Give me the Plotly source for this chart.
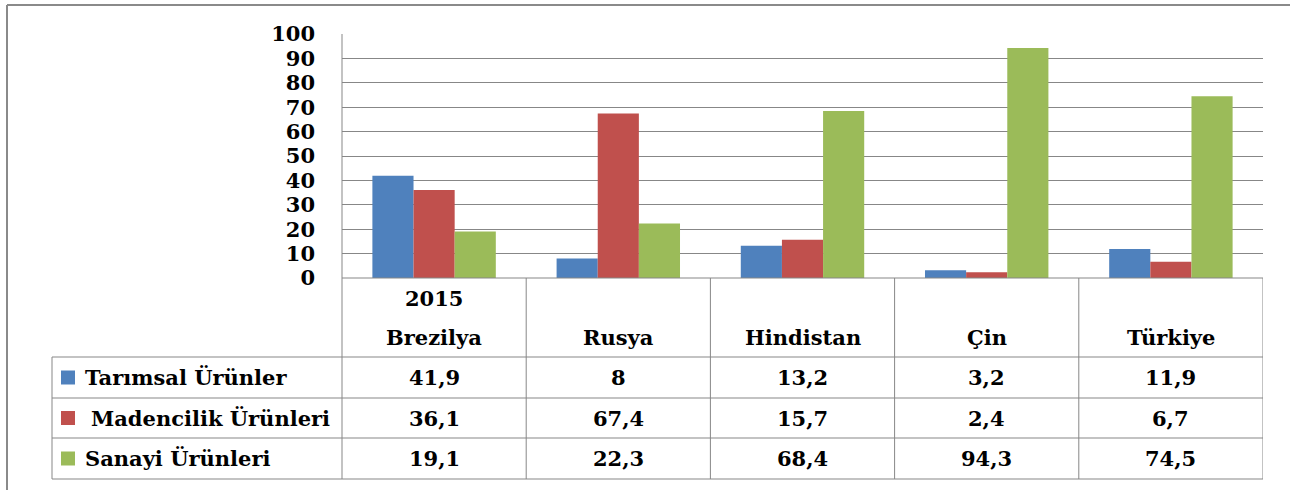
import plotly.graph_objects as go

# ---- data ----
year_label = "2015"
countries = ["Brezilya", "Rusya", "Hindistan", "Çin", "Türkiye"]
series_names = ["Tarımsal Ürünler", "Madencilik Ürünleri", "Sanayi Ürünleri"]
tarimsal = [41.9, 8, 13.2, 3.2, 11.9]
madencilik = [36.1, 67.4, 15.7, 2.4, 6.7]
sanayi = [19.1, 22.3, 68.4, 94.3, 74.5]
series_values = [tarimsal, madencilik, sanayi]
colors = ["#4F81BD", "#C0504D", "#9BBB59"]
y_ticks = [0, 10, 20, 30, 40, 50, 60, 70, 80, 90, 100]

W, H = 1290, 490
def px(x):
    return x / W
def py(y):
    return 1 - y / H

FONT = dict(family="DejaVu Serif", size=21, color="#000000", weight="bold")
GRID = "#878787"

# plot area in pixels
PL, PR, PT, PB = 342, 1263, 34, 278
TAB_L = 52
row_lines = [357, 398, 438, 479]

fig = go.Figure()
for name, vals, col in zip(series_names, series_values, colors):
    fig.add_trace(go.Bar(x=countries, y=vals, name=name,
                         marker=dict(color=col, line=dict(width=0))))

fig.update_layout(
    width=W, height=H,
    margin=dict(l=0, r=0, t=0, b=0),
    paper_bgcolor="white", plot_bgcolor="white",
    barmode="group", bargap=0.33, bargroupgap=0,
    showlegend=False,
    xaxis=dict(domain=[px(PL), px(PR)], showticklabels=False, showgrid=False,
               zeroline=False, showline=False, ticks="", automargin=False,
               range=[-0.5, len(countries) - 0.5]),
    yaxis=dict(domain=[py(PB), py(PT)], range=[0, 100], tickvals=y_ticks,
               showgrid=True, gridcolor=GRID, gridwidth=1, zeroline=False,
               showline=False, ticks="", automargin=False,
               tickfont=FONT, ticklabelstandoff=26),
)

shapes = []
def line(x0, y0, x1, y1, color=GRID, width=1, xref="paper"):
    shapes.append(dict(type="line", xref=xref, yref="paper",
                       x0=x0, x1=x1, y0=py(y0), y1=py(y1),
                       line=dict(color=color, width=width)))

# outer chart border (top + left)
line(px(7), 5, px(W), 5, color="#8a8a8a", width=2)
line(px(7), 5, px(7), H, color="#8a8a8a", width=2)

# plot-area left edge through table
line(px(PL), PT, px(PL), row_lines[-1])
# top axis / table top
line(px(PL), PB, px(PR), PB)
# table horizontal lines
for ry in row_lines:
    line(px(TAB_L), ry, px(PR), ry)
# table left edge
line(px(TAB_L), row_lines[0], px(TAB_L), row_lines[-1])
# column separators (category boundaries)
for i in range(1, len(countries) + 1):
    line(i - 0.5, PB, i - 0.5, row_lines[-1], xref="x")

# legend keys
row_centers = [(row_lines[k] + row_lines[k + 1]) / 2 for k in range(3)]
for col, rc in zip(colors, row_centers):
    shapes.append(dict(type="rect", xref="paper", yref="paper",
                       x0=px(61), x1=px(75), y0=py(rc - 7), y1=py(rc + 7),
                       fillcolor=col, line=dict(width=0)))
fig.update_layout(shapes=shapes)

ann = []
# header
ann.append(dict(x=countries[0], xref="x", y=py(298), yref="paper", text=year_label,
                showarrow=False, font=FONT, xanchor="center", yanchor="middle"))
for c in countries:
    ann.append(dict(x=c, xref="x", y=py(337), yref="paper", text=c,
                    showarrow=False, font=FONT, xanchor="center", yanchor="middle"))
# legend labels
label_x = [83, 89, 83]
for name, rc, lx in zip(series_names, row_centers, label_x):
    ann.append(dict(x=px(lx), xref="paper", y=py(rc), yref="paper", text=name,
                    showarrow=False, font=FONT, xanchor="left", yanchor="middle"))
# values
def fmt(v):
    s = ("%g" % v)
    return s.replace(".", ",")
for vals, rc in zip(series_values, row_centers):
    for c, v in zip(countries, vals):
        ann.append(dict(x=c, xref="x", y=py(rc), yref="paper", text=fmt(v),
                        showarrow=False, font=FONT, xanchor="center", yanchor="middle"))
fig.update_layout(annotations=ann)

fig.write_html("out.html",
               config={"displayModeBar": False},
               post_script="document.body.style.margin='0';document.body.style.overflow='hidden';")
